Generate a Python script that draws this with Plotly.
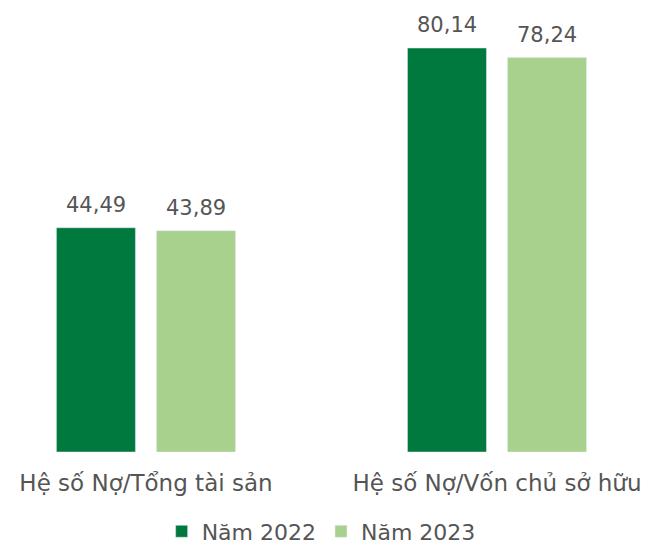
import plotly.graph_objects as go

categories = ["Hệ số Nợ/Tổng tài sản", "Hệ số Nợ/Vốn chủ sở hữu"]
nam_2022 = [44.49, 80.14]
nam_2023 = [43.89, 78.24]
series_names = ["Năm 2022", "Năm 2023"]
colors = ["#00793F", "#A9D18E"]


def fmt(v):
    return f"{v:.2f}".replace(".", ",")


fig = go.Figure()

for name, values, color in zip(series_names, [nam_2022, nam_2023], colors):
    fig.add_trace(
        go.Bar(
            name=name,
            x=categories,
            y=values,
            marker=dict(color=color),
        )
    )

# value labels sit a bit higher above the bars than plotly's own text
for shift, values in zip([-50, 50], [nam_2022, nam_2023]):
    for cat, v in zip(categories, values):
        fig.add_annotation(
            x=cat,
            y=v,
            text=fmt(v),
            showarrow=False,
            xshift=shift,
            yanchor="bottom",
            yshift=9,
            font=dict(size=21, color="#555555"),
        )

# page has an 8px body margin, so the figure is 643x537
fig.update_layout(
    width=643,
    height=537,
    barmode="group",
    bargap=0.43,
    bargroupgap=0.21,
    paper_bgcolor="white",
    plot_bgcolor="white",
    font=dict(family="DejaVu Sans", size=21, color="#555555"),
    margin=dict(l=0, r=0, t=12, b=93, autoexpand=False),
    xaxis=dict(
        range=[-0.393, 1.4387],
        showgrid=False,
        showline=False,
        zeroline=False,
        ticks="outside",
        ticklen=10,
        tickcolor="rgba(0,0,0,0)",
        tickfont=dict(size=23, color="#555555"),
    ),
    yaxis=dict(
        range=[0, 85.7],
        visible=False,
    ),
    legend=dict(
        orientation="h",
        x=0.487,
        xanchor="center",
        y=-0.184,
        yanchor="middle",
        itemwidth=30,
        font=dict(size=22, color="#555555"),
    ),
)

fig.write_html("out.html")
